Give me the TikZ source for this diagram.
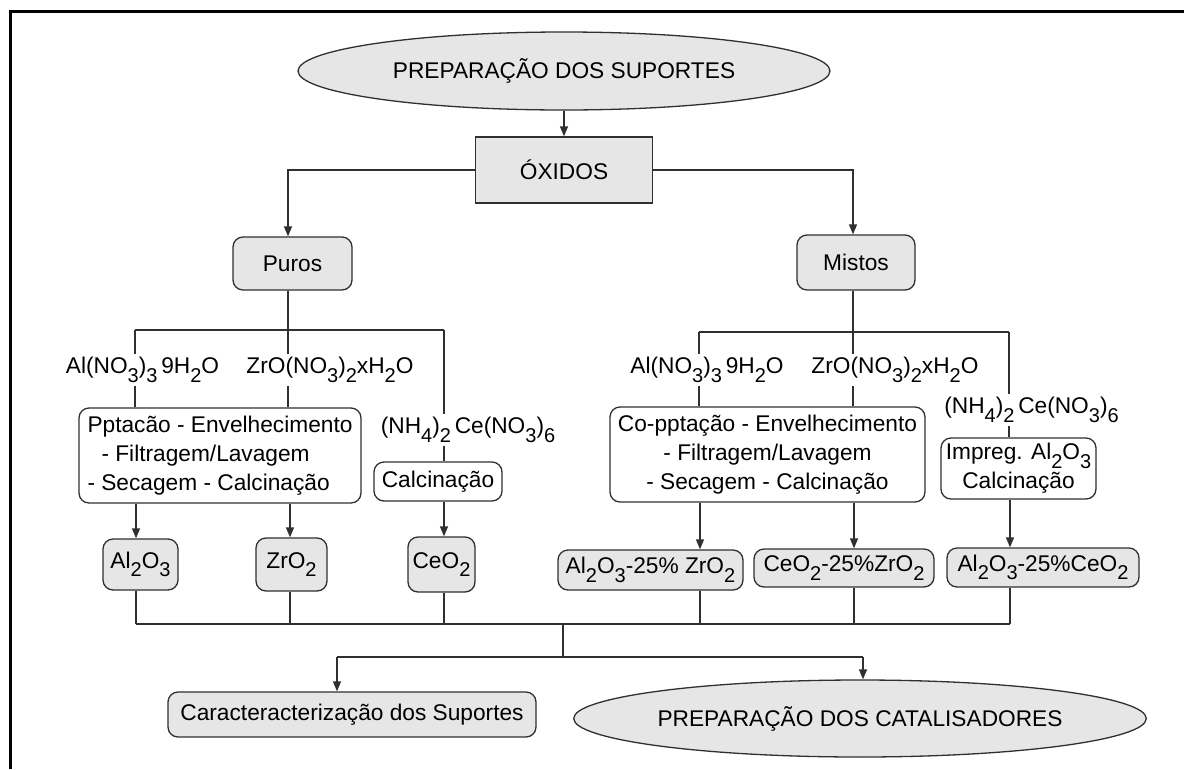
\documentclass[tikz,border=0pt]{standalone}
\usepackage{fontspec}
\setmainfont{Liberation Sans}
\usetikzlibrary{shapes.geometric,arrows.meta}
\definecolor{boxgray}{HTML}{E6E6E6}
\definecolor{linegray}{HTML}{303030}
% lowered, slightly smaller digits for chemical formulas
\newcommand{\chs}[1]{\raisebox{-0.38em}{\fontsize{20}{20}\selectfont #1}}
\begin{document}
\begin{tikzpicture}[x=1pt,y=-1pt,
  every node/.style={font=\fontsize{22.7}{29}\selectfont, inner sep=0pt, text=black},
  oval/.style={ellipse, draw=linegray, line width=1.3pt, fill=boxgray},
  sqbox/.style={rectangle, draw=linegray, line width=1.3pt, fill=boxgray},
  grbox/.style={rectangle, rounded corners=10pt, draw=linegray, line width=1.3pt, fill=boxgray},
  wtbox/.style={rectangle, rounded corners=10pt, draw=linegray, line width=1.3pt, fill=white, align=center},
  chem/.style={inner sep=3pt},
  link/.style={draw=linegray, line width=1.3pt},
  arr/.style={link, -{Triangle[length=10pt,width=8pt]}}]

\useasboundingbox (0,0) rectangle (1184,769);
\fill[white] (0,0) rectangle (1184,769);
\draw[line width=3pt, black] (10,769) -- (10,11) -- (1184,11);

% top of the chart
\node[oval, minimum width=532, minimum height=78] (sup) at (564,71) {PREPARAÇÃO DOS SUPORTES};
\node[sqbox, minimum width=177, minimum height=66] (oxi) at (564,170) {ÓXIDOS};
\node[grbox, minimum width=119, minimum height=53] (puros) at (292.5,263.5) {Puros};
\node[grbox, minimum width=118, minimum height=55] (mistos) at (856,262.5) {Mistos};

% pure oxides branch
\node[chem] (alL) at (142.5,370) {Al(NO\chs{3})\chs{3}\,9H\chs{2}O};
\node[chem] (zrL) at (330,370) {ZrO(NO\chs{3})\chs{2}xH\chs{2}O};
\node[chem] (nhL) at (468,430) {(NH\chs{4})\chs{2}\,Ce(NO\chs{3})\chs{6}};
\node[wtbox, align=left, minimum width=282, minimum height=95] (ppt) at (220,455.5)
  {Pptacão - Envelhecimento\\\hspace*{14pt}- Filtragem/Lavagem\\- Secagem - Calcinação};
\node[wtbox, minimum width=128, minimum height=39] (calc) at (438,481.5) {Calcinação};
\node[grbox, minimum width=75, minimum height=51] (al2o3) at (140.5,564.5) {Al\chs{2}O\chs{3}};
\node[grbox, minimum width=71, minimum height=53] (zro2) at (291.5,564.5) {ZrO\chs{2}};
\node[grbox, minimum width=67, minimum height=55] (ceo2) at (441.5,564.5) {CeO\chs{2}};

% mixed oxides branch
\node[chem] (alR) at (707,370) {Al(NO\chs{3})\chs{3}\,9H\chs{2}O};
\node[chem] (zrR) at (895,370) {ZrO(NO\chs{3})\chs{2}xH\chs{2}O};
\node[chem] (nhR) at (1031.5,410) {(NH\chs{4})\chs{2}\,Ce(NO\chs{3})\chs{6}};
\node[wtbox, minimum width=315, minimum height=95] (copp) at (767.5,454.5)
  {Co-pptação - Envelhecimento\\- Filtragem/Lavagem\\- Secagem - Calcinação};
\node[wtbox, minimum width=155, minimum height=61] (impreg) at (1018.5,468.5)
  {Impreg. Al\chs{2}O\chs{3}\\Calcinação};
\node[grbox, minimum width=185, minimum height=40] (alz) at (650.5,570) {Al\chs{2}O\chs{3}-25\% ZrO\chs{2}};
\node[grbox, minimum width=180, minimum height=38] (cez) at (844,568) {CeO\chs{2}-25\%ZrO\chs{2}};
\node[grbox, minimum width=192, minimum height=39] (alce) at (1043,567.5) {Al\chs{2}O\chs{3}-25\%CeO\chs{2}};

% final steps
\node[grbox, minimum width=368, minimum height=45] (carac) at (352,714.5) {Caracteracterização dos Suportes};
\node[oval, minimum width=534, minimum height=77] (cat) at (860,718.5) {PREPARAÇÃO DOS CATALISADORES};

% junction points of the connectors
\coordinate (pj) at (288,330);
\coordinate (mj) at (853,332);
\coordinate (lowbus) at (563,624);
\coordinate (split) at (563,657);

% connectors at the top
\draw[arr] (sup.south) -- (oxi.north);
\draw[arr] (oxi.west) -| (pj |- puros.north);
\draw[arr] (oxi.east) -| (mj |- mistos.north);

% pure branch
\draw[link] (pj |- puros.south) -- (pj);
\draw[link] (135,0 |- pj) -- (444,0 |- pj);
\draw[link] (135,0 |- pj) -- (135,0 |- alL.north);
\draw[link] (135,0 |- alL.south) -- (135,0 |- ppt.north);
\draw[link] (pj) -- (pj |- zrL.north);
\draw[link] (pj |- zrL.south) -- (pj |- ppt.north);
\draw[link] (444,0 |- pj) -- (444,0 |- nhL.north);
\draw[link] (444,0 |- nhL.south) -- (444,0 |- calc.north);
\draw[arr] (136,0 |- ppt.south) -- (136,0 |- al2o3.north);
\draw[arr] (290,0 |- ppt.south) -- (290,0 |- zro2.north);
\draw[arr] (444,0 |- calc.south) -- (444,0 |- ceo2.north);

% mixed branch
\draw[link] (mj |- mistos.south) -- (mj);
\draw[link] (699,0 |- mj) -- (1009,0 |- mj);
\draw[link] (699,0 |- mj) -- (699,0 |- alR.north);
\draw[link] (699,0 |- alR.south) -- (699,0 |- copp.north);
\draw[link] (mj) -- (mj |- zrR.north);
\draw[link] (mj |- zrR.south) -- (mj |- copp.north);
\draw[link] (1009,0 |- mj) -- (1009,0 |- nhR.north);
\draw[link] (1009,0 |- nhR.south) -- (1009,0 |- impreg.north);
\draw[arr] (700,0 |- copp.south) -- (700,0 |- alz.north);
\draw[arr] (854,0 |- copp.south) -- (854,0 |- cez.north);
\draw[arr] (1010,0 |- impreg.south) -- (1010,0 |- alce.north);

% collecting bus under the products
\draw[link] (136,0 |- lowbus) -- (1010,0 |- lowbus);
\draw[link] (136,0 |- al2o3.south) -- (136,0 |- lowbus);
\draw[link] (290,0 |- zro2.south) -- (290,0 |- lowbus);
\draw[link] (444,0 |- ceo2.south) -- (444,0 |- lowbus);
\draw[link] (700,0 |- alz.south) -- (700,0 |- lowbus);
\draw[link] (854,0 |- cez.south) -- (854,0 |- lowbus);
\draw[link] (1010,0 |- alce.south) -- (1010,0 |- lowbus);
\draw[link] (lowbus) -- (split);
\draw[link] (337,0 |- split) -- (863,0 |- split);
\draw[arr] (337,0 |- split) -- (337,0 |- carac.north);
\draw[arr] (863,0 |- split) -- (863,0 |- cat.north);
\end{tikzpicture}
\end{document}
